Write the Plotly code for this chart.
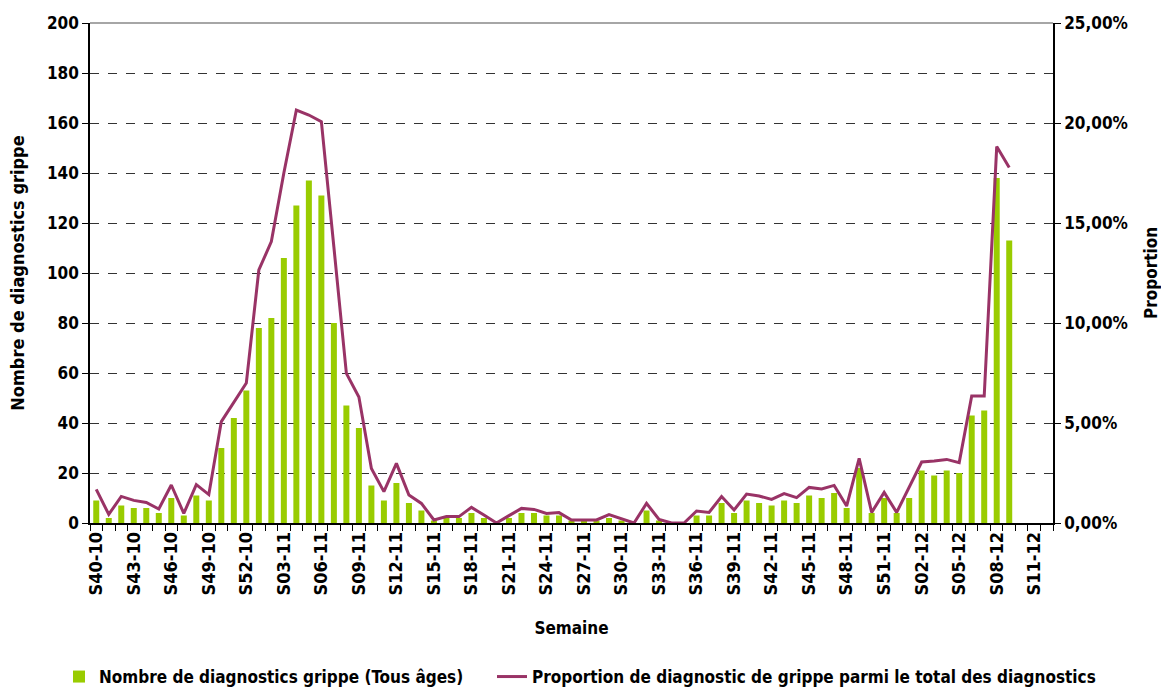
import plotly.graph_objects as go

# Week categories: S40-10 .. S52-10, S01-11 .. S52-11, S01-12 .. S12-12
weeks = ([f"S{w:02d}-10" for w in range(40, 53)]
         + [f"S{w:02d}-11" for w in range(1, 53)]
         + [f"S{w:02d}-12" for w in range(1, 13)])

counts = [9, 2, 7, 6, 6, 4, 10, 3, 11, 9, 30, 42, 53, 78, 82, 106, 127, 137, 131, 80,
          47, 38, 15, 9, 16, 8, 5, 1, 2, 2, 4, 2, 0, 2, 4, 4, 3, 3, 1, 1,
          1, 2, 1, 0, 5, 1, 0, 0, 3, 3, 8, 4, 9, 8, 7, 9, 8, 11, 10, 12,
          6, 22, 4, 10, 4, 10, 21, 19, 21, 20, 43, 45, 138, 113, None, None, None]

proportion = [1.68, 0.43, 1.33, 1.13, 1.03, 0.70, 1.90, 0.48, 1.92, 1.42, 5.07, 6.05, 7.00, 12.65,
              14.07, 17.50, 20.65, 20.40, 20.07, 13.80, 7.48, 6.30, 2.73, 1.57, 2.98, 1.40, 0.98,
              0.15, 0.32, 0.32, 0.78, 0.40, 0.00, 0.37, 0.73, 0.68, 0.48, 0.52, 0.15, 0.15, 0.15,
              0.42, 0.20, 0.00, 0.98, 0.18, 0.00, 0.00, 0.60, 0.53, 1.32, 0.65, 1.45, 1.35, 1.18,
              1.47, 1.27, 1.78, 1.70, 1.88, 0.85, 3.23, 0.53, 1.53, 0.53, 1.78, 3.05, 3.10, 3.18,
              3.02, 6.35, 6.35, 18.82, 17.77, None, None, None]

left_ticks = [0, 20, 40, 60, 80, 100, 120, 140, 160, 180, 200]
right_ticks = [0, 5, 10, 15, 20, 25]
right_ticktext = ["0,00%", "5,00%", "10,00%", "15,00%", "20,00%", "25,00%"]

FONT = "DejaVu Sans Condensed, Liberation Sans Narrow, Arial Narrow, DejaVu Sans, sans-serif"
W, H = 1161, 687

xpos = list(range(len(weeks)))
label_idx = list(range(0, len(weeks), 3))

fig = go.Figure()
fig.add_trace(go.Bar(
    x=xpos, y=counts, name="Nombre de diagnostics grippe (Tous âges)",
    marker=dict(color="#99CC00", line=dict(width=0)),
    yaxis="y", legend="legend",
))
fig.add_trace(go.Scatter(
    x=xpos, y=proportion, name="Proportion de diagnostic de grippe parmi le total des diagnostics",
    mode="lines", line=dict(color="#993366", width=3),
    yaxis="y2", legend="legend2",
))

legend_font = dict(family=FONT, size=17, color="black", weight="bold")

fig.update_layout(
    width=W, height=H,
    margin=dict(l=90, r=108, t=23, b=164, autoexpand=False),
    paper_bgcolor="white", plot_bgcolor="white",
    font=dict(family=FONT, size=16, color="black"),
    bargap=0.52,
    showlegend=True,
    legend=dict(orientation="h", xref="container", yref="container",
                x=59 / W, xanchor="left", y=(H - 677) / H, yanchor="middle",
                font=legend_font, itemwidth=30),
    legend2=dict(orientation="h", xref="container", yref="container",
                 x=492 / W, xanchor="left", y=(H - 677) / H, yanchor="middle",
                 font=legend_font, itemwidth=30),
    xaxis=dict(
        automargin=False,
        range=[-0.5, len(weeks) - 0.5],
        tickmode="array", tickvals=label_idx, ticktext=[weeks[i] for i in label_idx],
        tickangle=-90, ticks="",
        tickfont=dict(family=FONT, size=18, color="black", weight="bold"),
        minor=dict(tickmode="linear", tick0=-0.5, dtick=1, ticks="outside", ticklen=6,
                   tickcolor="black", tickwidth=1, showgrid=False),
        showline=True, linecolor="black", linewidth=1.5,
        showgrid=False, zeroline=False,
        title=dict(text="<b>Semaine</b>", font=dict(family=FONT, size=17, color="black"), standoff=28),
    ),
    yaxis=dict(
        automargin=False,
        range=[0, 200], tickmode="array", tickvals=left_ticks,
        ticks="outside", ticklen=6, tickcolor="black",
        tickfont=dict(family=FONT, size=17, color="black", weight="bold"),
        showline=True, linecolor="black", linewidth=1.5,
        showgrid=True, gridcolor="#333333", griddash="dash", gridwidth=1,
        zeroline=False,
        title=dict(text="<b>Nombre de diagnostics grippe</b>", font=dict(family=FONT, size=18, color="black"), standoff=18),
    ),
    yaxis2=dict(
        automargin=False,
        range=[0, 25], overlaying="y", side="right",
        tickmode="array", tickvals=right_ticks, ticktext=right_ticktext,
        ticks="outside", ticklen=6, tickcolor="black",
        tickfont=dict(family=FONT, size=17, color="black", weight="bold"),
        showline=True, linecolor="black", linewidth=1.5,
        showgrid=False, zeroline=False,
    ),
    annotations=[dict(text="<b>Proportion</b>", xref="paper", yref="paper",
                      x=(1151 - 90) / 963, y=0.5, xanchor="center", yanchor="middle",
                      textangle=-90, showarrow=False,
                      font=dict(family=FONT, size=17, color="black"))],
    shapes=[dict(type="line", xref="paper", yref="paper", x0=0, x1=1, y0=1, y1=1,
                 line=dict(color="#888888", width=1.5))],
)

fig.write_html("out.html", config={"displayModeBar": False},
               post_script="document.body.style.margin='0';document.body.style.overflow='hidden';")
